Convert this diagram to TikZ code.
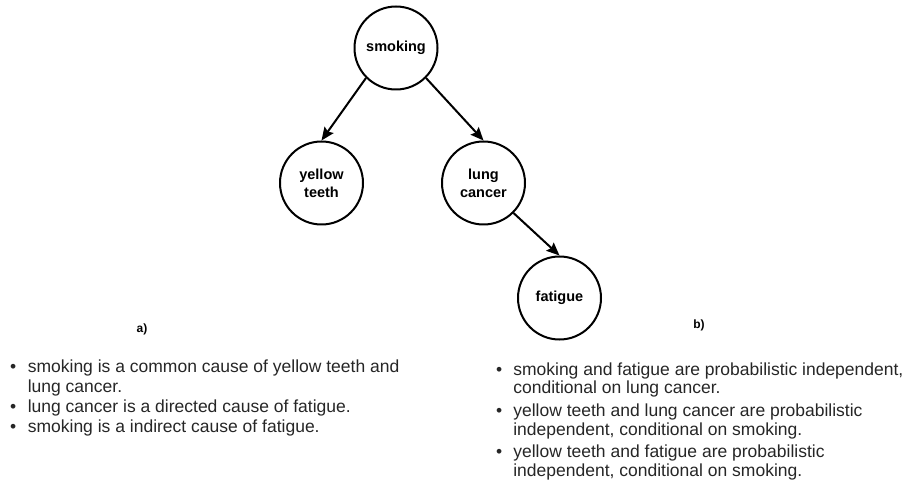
\documentclass[tikz,border=0pt]{standalone}
\usepackage{fontspec}
\setmainfont{Liberation Sans}
\usetikzlibrary{arrows.meta}
\tikzset{
  var/.style={circle, draw, line width=2pt, minimum size=83pt, inner sep=0pt,
    align=center, font=\fontsize{14.5}{18}\selectfont\bfseries},
  causes/.style={draw, line width=2pt, -{Stealth[length=13pt, width=11pt, inset=2pt]}},
  panel/.style={font=\fontsize{12}{14}\selectfont\bfseries},
  notes/.style={inner sep=0pt, anchor=base west, text=black!85,
    font=\fontsize{17.5}{20}\selectfont}
}
\begin{document}
\begin{tikzpicture}[x=1pt, y=-1pt]
  \useasboundingbox (0,0) rectangle (906,481);

  % causal graph
  \node[var] (smoking) at (396,48) {smoking};
  \node[var] (yellow) at (321.5,183) {yellow\\teeth};
  \node[var] (lung) at (483.5,183) {lung\\cancer};
  \node[var] (fatigue) at (559.5,298) {fatigue};

  \draw[causes] (smoking.south west) -- (yellow.north);
  \draw[causes] (smoking.south east) -- (lung.north);
  \draw[causes] (lung.south east) -- (fatigue.north);

  % panel labels
  \node[panel] (la) at (142,329) {a)};
  \node[panel] (lb) at (699,325) {b)};

  % statements
  \node[notes] (na) at (10,372.7) {%
    \begin{tabular}[t]{@{}l@{\hspace{11.5pt}}l@{}}
      \textbullet & smoking is a common cause of yellow teeth and\\
                  & lung cancer.\\
      \textbullet & lung cancer is a directed cause of fatigue.\\
      \textbullet & smoking is a indirect cause of fatigue.
    \end{tabular}};

  \node[notes] (nb) at (496,375) {%
    \begin{tabular}[t]{@{}l@{\hspace{11pt}}l@{}}
      \textbullet & smoking and fatigue are probabilistic independent,\\[-1pt]
                  & conditional on lung cancer.\\[2.5pt]
      \textbullet & yellow teeth and lung cancer are probabilistic\\[-1pt]
                  & independent, conditional on smoking.\\[2.5pt]
      \textbullet & yellow teeth and fatigue are probabilistic\\[-1pt]
                  & independent, conditional on smoking.
    \end{tabular}};
\end{tikzpicture}
\end{document}
